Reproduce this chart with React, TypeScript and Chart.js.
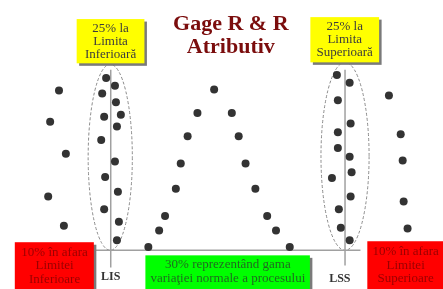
import React, { useEffect, useRef } from "react";
import { Chart, registerables } from "chart.js";

Chart.register(...registerables);

// Dot positions (x across, y down from top)
const lowOutX = [56, 47, 63, 45, 61];
const lowOutY = [89, 121, 154, 198, 228];
const lisX = [104, 113, 100, 114, 119, 102, 115, 99, 113, 103, 116, 102, 117, 115];
const lisY = [76, 84, 92, 101, 114, 116, 126, 140, 162, 178, 193, 211, 224, 243];
const normalX = [214, 197, 232, 187, 239, 180, 246, 175, 256, 164, 268, 158, 277, 147, 291];
const normalY = [88, 112, 112, 136, 136, 164, 164, 190, 190, 218, 218, 233, 233, 250, 250];
const lssX = [339, 352, 340, 353, 340, 340, 352, 354, 334, 353, 341, 343, 352];
const lssY = [73, 81, 99, 123, 132, 148, 157, 173, 179, 198, 211, 230, 243];
const highOutX = [392, 404, 406, 407, 411];
const highOutY = [94, 134, 161, 203, 231];

const LIS = 108.7;
const LSS = 347.3;
const BASE = 253.3;

const titleLines = ["Gage R & R", "Atributiv"];
const lisBoxLines = ["25% la", "Limita", "Inferioară"];
const lssBoxLines = ["25% la", "Limita", "Superioară"];
const lowOutLines = ["10% în afara", "Limitei", "Inferioare"];
const highOutLines = ["10% în afara", "Limitei", "Superioare"];
const normalLines = ["30% reprezentând gama", "variaţiei normale a procesului"];

const zip = (xs: number[], ys: number[]) => xs.map((x, i) => ({ x, y: ys[i] }));

const overlay = {
  id: "overlay",
  beforeDatasetsDraw(chart: any) {
    const { ctx, scales } = chart;
    const X = (v: number) => scales.x.getPixelForValue(v);
    const Y = (v: number) => scales.y.getPixelForValue(v);
    ctx.save();
    // ellipses
    ctx.setLineDash([3, 2]);
    ctx.strokeStyle = "#8a8a8a";
    ctx.lineWidth = 1;
    const ells = [
      { cx: LIS - 0.5, x0: 85.5, x1: 130.5, y0: 62, y1: BASE },
      { cx: LSS, x0: 323, x1: 372, y0: 60, y1: BASE },
    ];
    for (const e of ells) {
      const cx = X(e.cx);
      const rx = (X(e.x1) - X(e.x0)) / 2;
      const cy = (Y(e.y0) + Y(e.y1)) / 2;
      const ry = Math.abs(Y(e.y1) - Y(e.y0)) / 2;
      ctx.beginPath();
      ctx.ellipse(cx, cy, rx, ry, 0, 0, Math.PI * 2);
      ctx.stroke();
    }
    ctx.setLineDash([]);
    // lines
    ctx.strokeStyle = "#a0a0a0";
    ctx.lineWidth = 1.5;
    ctx.beginPath();
    ctx.moveTo(X(93), Y(BASE));
    ctx.lineTo(X(363), Y(BASE));
    ctx.moveTo(X(LIS), Y(67.5));
    ctx.lineTo(X(LIS), Y(271));
    ctx.moveTo(X(LSS), Y(67.5));
    ctx.lineTo(X(LSS), Y(269));
    ctx.stroke();
    ctx.restore();
  },
  afterDatasetsDraw(chart: any) {
    const { ctx, scales } = chart;
    const X = (v: number) => scales.x.getPixelForValue(v);
    const Y = (v: number) => scales.y.getPixelForValue(v);
    ctx.save();
    const box = (x0: number, y0: number, x1: number, y1: number, fill: string) => {
      ctx.fillStyle = "#7a7a7a";
      ctx.fillRect(X(x0) + 2.5, Y(y0) + 2.5, X(x1) - X(x0), Y(y1) - Y(y0));
      ctx.fillStyle = fill;
      ctx.fillRect(X(x0), Y(y0), X(x1) - X(x0), Y(y1) - Y(y0));
    };
    box(74, 15.5, 143, 61, "#ffff00");
    box(312, 13.5, 382, 60, "#ffff00");
    box(11, 245, 91.5, 300, "#ff0000");
    box(370, 244, 452, 300, "#ff0000");
    box(144, 258.5, 311.5, 300, "#00ff00");

    const text = (lines: string[], cx: number, base0: number, step: number, font: string, color: string) => {
      ctx.font = font;
      ctx.fillStyle = color;
      ctx.textAlign = "center";
      ctx.textBaseline = "alphabetic";
      lines.forEach((l, i) => ctx.fillText(l, X(cx), Y(base0 + i * step)));
    };
    const serif = "'Liberation Serif', 'Times New Roman', serif";
    text(titleLines, 231, 27, 23.3, `bold 22px ${serif}`, "#7b0d0d");
    text(lisBoxLines, 108.5, 28.5, 13.3, `13px ${serif}`, "#3c3c3c");
    text(lssBoxLines, 347, 26.5, 13.3, `13px ${serif}`, "#3c3c3c");
    text(lowOutLines, 51.5, 259, 13.8, `13px ${serif}`, "#9a0000");
    text(highOutLines, 409, 258.5, 13.8, `13px ${serif}`, "#9a0000");
    text(normalLines, 228, 271.5, 14, `13px ${serif}`, "#1f6b1f");
    text(["LIS"], LIS, 284, 0, `bold 12px ${serif}`, "#333333");
    text(["LSS"], 342, 286, 0, `bold 12px ${serif}`, "#333333");
    ctx.restore();
  },
};

export default function App() {
  const ref = useRef<HTMLCanvasElement>(null);
  useEffect(() => {
    if (!ref.current) return;
    const ds = (data: { x: number; y: number }[]) => ({
      data,
      pointRadius: 4,
      pointHoverRadius: 4,
      pointBackgroundColor: "#333333",
      pointBorderWidth: 0,
      showLine: false,
      clip: false as any,
    });
    const chart = new Chart(ref.current, {
      type: "scatter",
      data: {
        datasets: [
          ds(zip(lowOutX, lowOutY)),
          ds(zip(lisX, lisY)),
          ds(zip(normalX, normalY)),
          ds(zip(lssX, lssY)),
          ds(zip(highOutX, highOutY)),
        ],
      },
      options: {
        animation: false,
        responsive: false,
        devicePixelRatio: 1,
        layout: { padding: 0 },
        plugins: { legend: { display: false }, tooltip: { enabled: false } },
        scales: {
          x: { type: "linear", min: 0, max: 443, display: false },
          y: { type: "linear", min: 0, max: 289, reverse: true, display: false },
        },
      },
      plugins: [overlay],
    });
    return () => chart.destroy();
  }, []);
  return (
    <div style={{ position: "absolute", left: 0, top: 0, width: 443, height: 289, background: "#fff" }}>
      <canvas ref={ref} width={443} height={289} />
    </div>
  );
}
